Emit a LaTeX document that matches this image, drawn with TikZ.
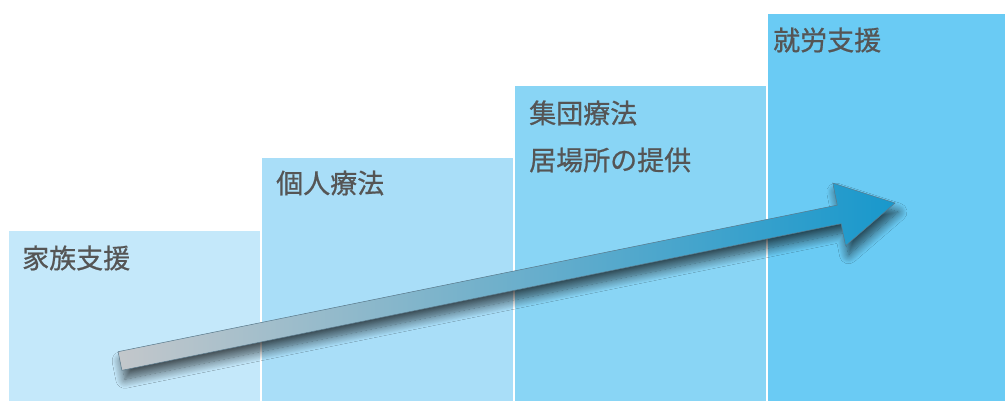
\documentclass[tikz,border=0pt]{standalone}
\usepackage{fontspec}
\newfontfamily\jp[FakeBold=0.7]{Noto Sans CJK JP}
\usetikzlibrary{shadows.blur}
\definecolor{cA}{HTML}{C4E8FA}
\definecolor{cB}{HTML}{A9DEF8}
\definecolor{cC}{HTML}{89D5F5}
\definecolor{cD}{HTML}{6ACBF4}
\definecolor{txt}{HTML}{555555}
\definecolor{arrL}{HTML}{C3C7CB}
\definecolor{arrM}{HTML}{7DADC7}
\definecolor{arrR}{HTML}{1898CC}
\definecolor{arrE}{HTML}{5A7A8C}
\begin{document}
\begin{tikzpicture}[x=1pt,y=1pt,
  box/.style={inner sep=0, outer sep=0, anchor=south west, draw=none},
  lbl/.style={font=\jp\fontsize{27}{27}\selectfont, text=txt, anchor=west, inner sep=0}]
\useasboundingbox[fill=white] (0,0) rectangle (1005,401);
\node[box, fill=cA, minimum width=251, minimum height=170] (b1) at (9,0) {};
\node[box, fill=cB, minimum width=251, minimum height=243] (b2) at (262,0) {};
\node[box, fill=cC, minimum width=251, minimum height=315] (b3) at (515,0) {};
\node[box, fill=cD, minimum width=237, minimum height=387] (b4) at (768,0) {};
\node[lbl] (t1) at ([xshift=13,yshift=-27]b1.north west) {家族支援};
\node[lbl] (t2) at ([xshift=14,yshift=-25]b2.north west) {個人療法};
\node[lbl] (t3) at ([xshift=14,yshift=-27]b3.north west) {集団療法};
\node[lbl] (t3b) at ([xshift=14,yshift=-74]b3.north west) {居場所の提供};
\node[lbl] (t4) at ([xshift=5,yshift=-26]b4.north west) {就労支援};
\begin{scope}[shift={(120,40)}, rotate=11.52]
\path[blur shadow={shadow xshift=3, shadow yshift=-9, shadow blur radius=9, shadow blur steps=14, shadow opacity=65},
  left color=arrL, middle color=arrM, right color=arrR, draw=arrE, line width=0.5]
  (0,-9.5) -- (734,-9.5) -- (734,-32) -- (791,0) -- (734,32) -- (734,9.5) -- (0,9.5) -- cycle;
\end{scope}
\end{tikzpicture}
\end{document}
